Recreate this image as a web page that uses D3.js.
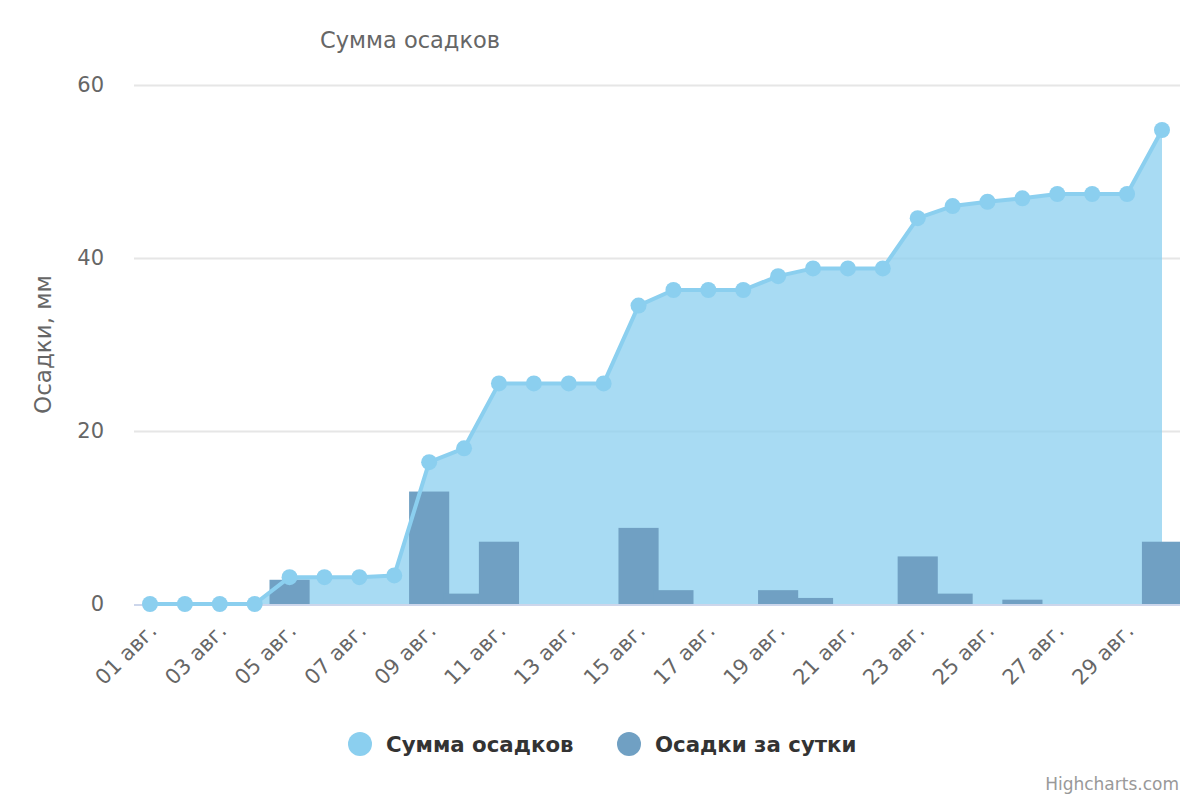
<!DOCTYPE html>
<html>
<head>
<meta charset="utf-8">
<script src="https://cdnjs.cloudflare.com/ajax/libs/d3/7.8.5/d3.min.js"></script>
<style>
  body { margin: 0; background: #fff; }
  svg { font-family: "DejaVu Sans", sans-serif; }
</style>
</head>
<body>
<div id="chart"></div>
<script>
// Days of August
const days = d3.range(1, 31);
// Cumulative precipitation, mm
const cumSum = [0, 0, 0, 0, 3.1, 3.1, 3.1, 3.3, 16.4, 18.0, 25.5, 25.5, 25.5, 25.5, 34.5,
  36.3, 36.3, 36.3, 37.9, 38.8, 38.8, 38.8, 44.6, 46.0, 46.5, 46.9, 47.4, 47.4, 47.4, 54.8];
// Daily precipitation, mm
const daily = [0, 0, 0, 0, 2.8, 0, 0, 0, 13.0, 1.2, 7.2, 0, 0, 0, 8.8,
  1.6, 0, 0, 1.6, 0.7, 0, 0, 5.5, 1.2, 0, 0.5, 0, 0, 0, 7.2];
const yTicks = [0, 20, 40, 60];
const seriesNames = ["Сумма осадков", "Осадки за сутки"];

const lineColour = "#8bcfef";
const barColour = "#70a0c3";

const width = 1200;
const height = 800;
const plot = { left: 134, right: 1180, top: 50, bottom: 604 };

const svg = d3.select("#chart").append("svg")
  .attr("width", width)
  .attr("height", height);

// Scales - a little padding around first and last day
const xScale = d3.scaleLinear()
  .domain([0.542, 30.516])
  .range([plot.left, plot.right]);
const yScale = d3.scaleLinear()
  .domain([0, 60])
  .range([plot.bottom, 85]);
const barWidth = (xScale(2) - xScale(1)) * 1.15;

// Title
svg.append("text")
  .attr("x", 410)
  .attr("y", 48)
  .attr("text-anchor", "middle")
  .attr("fill", "#666")
  .style("font-size", "22.5px")
  .text(seriesNames[0]);

// Grid
const yGrid = d3.axisLeft(yScale)
  .tickValues(yTicks.filter((d) => d > 0))
  .tickSize(plot.left - plot.right)
  .tickFormat("");
svg.append("g")
  .attr("transform", `translate(${plot.left}, 0)`)
  .call(yGrid)
  .call((g) => g.select(".domain").remove())
  .call((g) => g.selectAll("line").attr("stroke", "#e6e6e6").attr("stroke-width", 2));

// Y tick labels
const yAxis = d3.axisLeft(yScale).tickValues(yTicks).tickSize(0).tickPadding(30);
svg.append("g")
  .attr("transform", `translate(${plot.left}, 0)`)
  .call(yAxis)
  .call((g) => g.select(".domain").remove())
  .call((g) => g.selectAll("text")
    .attr("fill", "#666")
    .style("font-size", "21px")
    .style("font-family", "DejaVu Sans, sans-serif"));

// Y axis title
svg.append("text")
  .attr("transform", `translate(51, ${(85 + plot.bottom) / 2}) rotate(-90)`)
  .attr("text-anchor", "middle")
  .attr("fill", "#666")
  .style("font-size", "23px")
  .text("Осадки, мм");

// X axis line
svg.append("line")
  .attr("x1", plot.left)
  .attr("x2", plot.right)
  .attr("y1", plot.bottom + 1)
  .attr("y2", plot.bottom + 1)
  .attr("stroke", "#ccd6eb")
  .attr("stroke-width", 2);

// X tick labels, every second day
const pad = (d) => (d < 10 ? "0" + d : "" + d);
svg.append("g")
  .selectAll("text")
  .data(days.filter((d) => d % 2 === 1))
  .enter()
  .append("text")
  .attr("transform", (d) => `translate(${xScale(d) + 8}, 632) rotate(-45)`)
  .attr("text-anchor", "end")
  .attr("fill", "#666")
  .style("font-size", "21px")
  .text((d) => pad(d) + " авг.");

// Clip to the plot area
svg.append("defs").append("clipPath")
  .attr("id", "clip")
  .append("rect")
  .attr("x", plot.left)
  .attr("y", 0)
  .attr("width", plot.right - plot.left)
  .attr("height", plot.bottom + 1);

const drawArea = svg.append("g").attr("clip-path", "url(#clip)");

const points = days.map((d, i) => ({ day: d, cum: cumSum[i], daily: daily[i] }));

// Area
const area = d3.area()
  .x((d) => xScale(d.day))
  .y0(yScale(0))
  .y1((d) => yScale(d.cum));
drawArea.append("path")
  .datum(points)
  .attr("d", area)
  .attr("fill", lineColour)
  .attr("fill-opacity", 0.75);

// Bars
drawArea.append("g")
  .selectAll("rect")
  .data(points.filter((d) => d.daily > 0))
  .enter()
  .append("rect")
  .attr("x", (d) => xScale(d.day) - barWidth / 2)
  .attr("y", (d) => yScale(d.daily))
  .attr("width", barWidth)
  .attr("height", (d) => yScale(0) - yScale(d.daily))
  .attr("fill", barColour);

// Line and markers
const line = d3.line()
  .x((d) => xScale(d.day))
  .y((d) => yScale(d.cum));
svg.append("path")
  .datum(points)
  .attr("d", line)
  .attr("fill", "none")
  .attr("stroke", lineColour)
  .attr("stroke-width", 4)
  .attr("stroke-linejoin", "round");

svg.append("g")
  .selectAll("circle")
  .data(points)
  .enter()
  .append("circle")
  .attr("cx", (d) => xScale(d.day))
  .attr("cy", (d) => yScale(d.cum))
  .attr("r", 8)
  .attr("fill", lineColour);

// Legend
const legend = svg.append("g").attr("transform", "translate(0, 744)");
const legendItems = [
  { name: seriesNames[0], colour: lineColour, x: 360 },
  { name: seriesNames[1], colour: barColour, x: 629 },
];
for (const item of legendItems) {
  legend.append("circle")
    .attr("cx", item.x)
    .attr("cy", 0)
    .attr("r", 12)
    .attr("fill", item.colour);
  legend.append("text")
    .attr("x", item.x + 26)
    .attr("y", 8)
    .attr("fill", "#333")
    .style("font-size", "21.3px")
    .style("font-weight", "bold")
    .text(item.name);
}

// Credit
svg.append("text")
  .attr("x", 1179)
  .attr("y", 790)
  .attr("text-anchor", "end")
  .attr("fill", "#999")
  .style("font-size", "17px")
  .text("Highcharts.com");
</script>
</body>
</html>
